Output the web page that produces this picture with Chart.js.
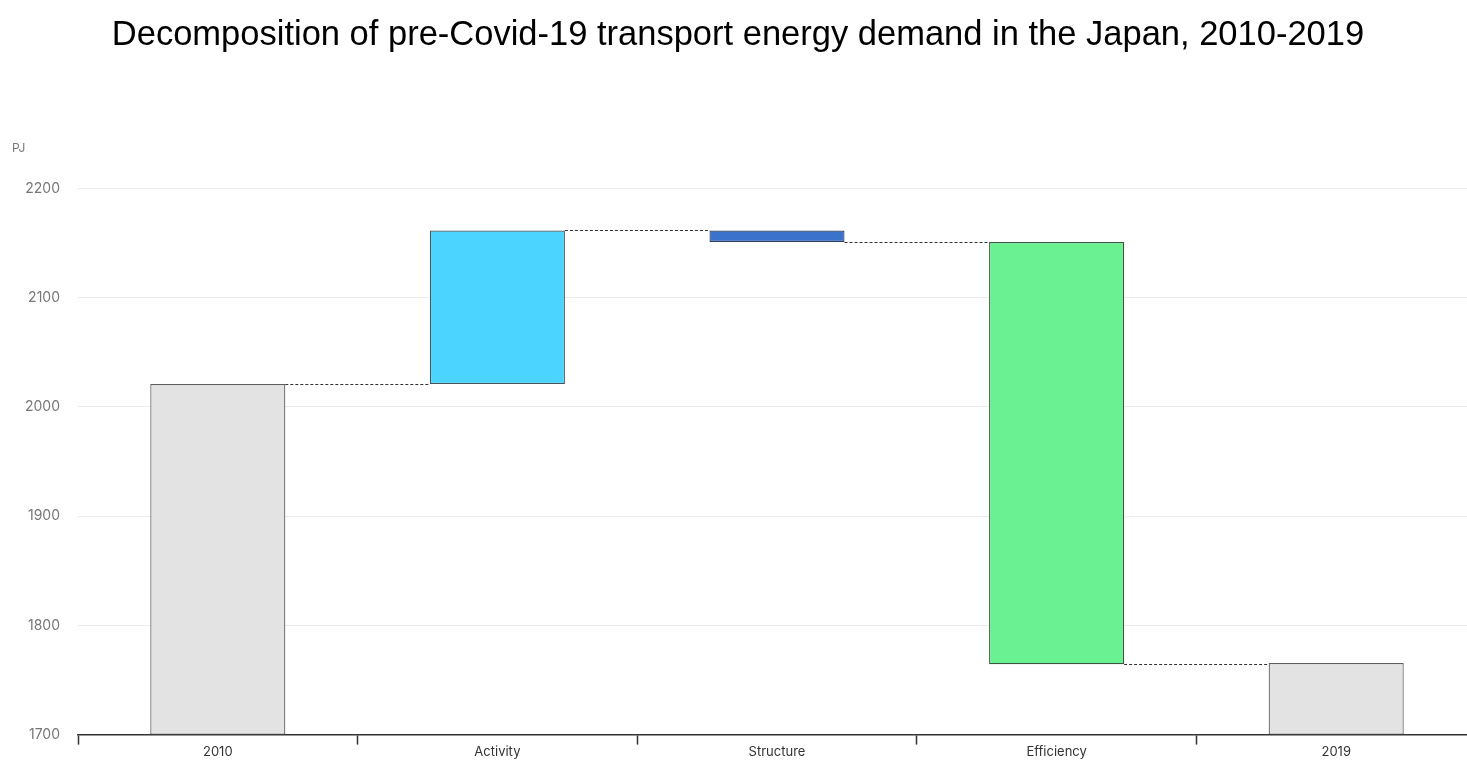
<!DOCTYPE html>
<html>
<head>
<meta charset="utf-8">
<title>Transport energy demand decomposition</title>
<script src="https://cdn.jsdelivr.net/npm/chart.js@4.4.1/dist/chart.umd.min.js"></script>
<style>
  html, body { margin: 0; padding: 0; background: #fff; overflow: hidden; }
  #wrap { width: 1476px; height: 761px; }
</style>
</head>
<body>
<div id="wrap"><canvas id="myChart" width="1476" height="761"></canvas></div>
<script>
// categories on the x axis
var categorias = ['2010', 'Activity', 'Structure', 'Efficiency', '2019'];
// PJ
var inicio = 2021;
var efectos = [140.5, -10.5, -386.5];   // Activity, Structure, Efficiency
var final2019 = 1765.5;
var yTicks = [1700, 1800, 1900, 2000, 2100, 2200];

var colores = ['#e3e3e3', '#4bd4ff', '#3a72cc', '#6af292', '#e3e3e3'];
var bordes = ['#5e5e5e', '#44545c', '#2f3f5a', '#3a5442', '#5e5e5e'];

// floating bars [from, to] and the running level after each bar
var barras = [];
var niveles = [];
var acumulado = inicio;
barras.push([yTicks[0], inicio]);
niveles.push(inicio);
for (var i = 0; i < efectos.length; i++) {
  barras.push([acumulado, acumulado + efectos[i]]);
  acumulado = acumulado + efectos[i];
  niveles.push(acumulado);
}
barras.push([yTicks[0], final2019]);

// dotted connectors between bars + the unit label
var conectores = {
  id: 'conectores',
  afterDatasetsDraw: function(chart) {
    var ctx = chart.ctx;
    var y = chart.scales.y;
    var meta = chart.getDatasetMeta(0);
    ctx.save();
    ctx.strokeStyle = '#333';
    ctx.lineWidth = 1;
    ctx.setLineDash([3, 2]);
    for (var i = 0; i < meta.data.length - 1; i++) {
      var a = meta.data[i], b = meta.data[i + 1];
      var py = Math.round(y.getPixelForValue(niveles[i])) + 0.5;
      ctx.beginPath();
      ctx.moveTo(a.x + a.width / 2, py);
      ctx.lineTo(b.x - b.width / 2, py);
      ctx.stroke();
    }
    ctx.setLineDash([]);
    ctx.fillStyle = '#777';
    ctx.font = '12px Inter';
    ctx.textAlign = 'left';
    ctx.textBaseline = 'middle';
    ctx.fillText('PJ', 12, chart.chartArea.top - 40);
    ctx.restore();
  }
};

var grafico = new Chart(document.getElementById('myChart'), {
  type: 'bar',
  data: {
    labels: categorias,
    datasets: [{
      data: barras,
      backgroundColor: colores,
      borderColor: bordes,
      borderWidth: 1.2,
      borderSkipped: false,
      categoryPercentage: 1,
      barPercentage: 0.483
    }]
  },
  options: {
    responsive: false,
    animation: false,
    layout: { padding: 0 },
    plugins: {
      legend: { display: false },
      tooltip: { enabled: false },
      title: {
        display: true,
        text: 'Decomposition of pre-Covid-19 transport energy demand in the Japan, 2010-2019',
        color: '#000',
        font: { family: 'Liberation Sans', size: 34.5, weight: 'normal', lineHeight: 1.2 },
        padding: { top: 15, bottom: 132 }
      }
    },
    scales: {
      x: {
        grid: {
          offset: true,
          drawOnChartArea: false,
          drawTicks: true,
          tickLength: 10,
          tickColor: '#333',
          tickWidth: 1.5
        },
        border: { display: true, color: '#333', width: 1.5 },
        ticks: { color: '#333', padding: 0, font: { family: 'Inter', size: 13 } },
        afterFit: function(s) { s.height = 26; }
      },
      y: {
        min: 1700,
        max: 2200,
        afterBuildTicks: function(s) { s.ticks = yTicks.map(function(v) { return { value: v }; }); },
        grid: { color: '#ebebeb', lineWidth: 1, drawTicks: false },
        border: { display: false },
        ticks: {
          color: '#777',
          padding: 18,
          font: { family: 'Inter', size: 14 },
          callback: function(v) { return String(v); }
        },
        afterFit: function(s) { s.width = 78; }
      }
    }
  },
  plugins: [conectores]
});
</script>
</body>
</html>
